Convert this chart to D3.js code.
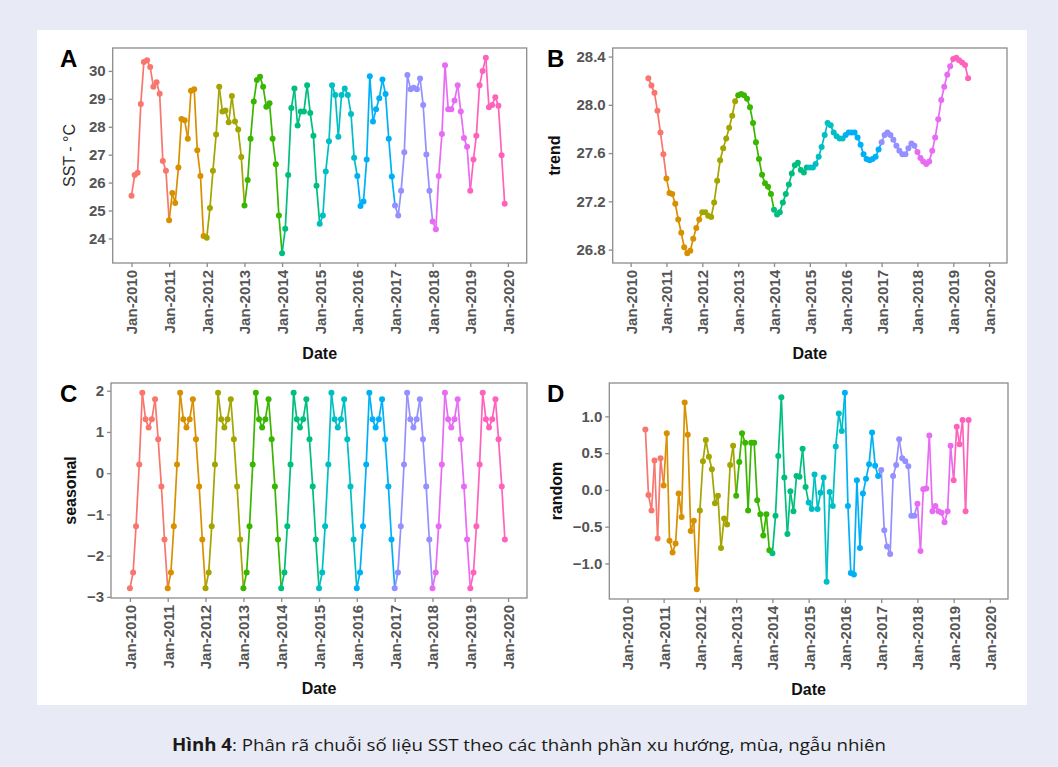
<!DOCTYPE html>
<html>
<head>
<meta charset="utf-8">
<script src="https://cdn.jsdelivr.net/npm/d3@7"></script>
<style>
  body { margin: 0; background: #e8ebf5; }
  svg { display: block; }
</style>
</head>
<body>
<svg id="fig" width="1058" height="767"></svg>
<script>
// ---- data ----
var years = [2010, 2011, 2012, 2013, 2014, 2015, 2016, 2017, 2018, 2019]
var yearColors = ["#F8766D", "#D89000", "#A3A500", "#39B600", "#00BF7D",
                  "#00BFC4", "#00B0F6", "#9590FF", "#E76BF3", "#FF62BC"]
var xTickYears = [2010, 2011, 2012, 2013, 2014, 2015, 2016, 2017, 2018, 2019, 2020]

// monthly SST, Jan-2010 .. Dec-2019
var sstValues = [
  25.53, 26.27, 26.35, 28.81, 30.32, 30.38, 30.14, 29.43, 29.59, 29.18, 26.77, 26.42,
  24.65, 25.63, 25.27, 26.54, 28.28, 28.23, 27.57, 29.29, 29.34, 27.16, 26.24, 24.09,
  24.02, 25.09, 26.42, 27.72, 29.43, 28.55, 28.58, 28.16, 29.10, 28.19, 27.90, 26.92,
  25.18, 26.09, 27.57, 28.90, 29.67, 29.79, 29.43, 28.72, 28.84, 27.57, 26.66, 24.82,
  23.47, 24.35, 26.27, 28.67, 29.37, 28.04, 28.55, 28.55, 29.49, 28.49, 27.68, 25.89,
  24.53, 24.82, 26.40, 27.48, 29.49, 29.14, 27.64, 29.14, 29.37, 29.14, 28.46, 26.89,
  26.24, 25.16, 25.32, 26.83, 29.81, 28.19, 28.63, 29.02, 29.69, 29.17, 27.57, 26.22,
  25.18, 24.82, 25.71, 27.09, 29.85, 29.34, 29.40, 29.34, 29.73, 28.78, 27.01, 25.71,
  24.61, 24.33, 26.24, 27.74, 30.20, 28.63, 28.63, 28.94, 29.49, 28.55, 27.60, 27.28,
  25.71, 26.83, 27.68, 29.49, 30.00, 30.47, 28.70, 28.78, 29.06, 28.75, 26.98, 25.24
]

// trend, Jul-2010 .. Jun-2019
var trendValues = [
  28.22, 28.16, 28.10, 27.95, 27.77, 27.59,
  27.39, 27.27, 27.26, 27.18, 27.05, 26.94, 26.82, 26.77, 26.79, 26.89, 26.98, 27.05,
  27.11, 27.11, 27.08, 27.07, 27.19, 27.37, 27.54, 27.64, 27.72, 27.81, 27.91, 28.03,
  28.08, 28.09, 28.08, 28.05, 27.98, 27.85, 27.69, 27.55, 27.42, 27.35, 27.32, 27.26,
  27.13, 27.09, 27.11, 27.19, 27.26, 27.34, 27.43, 27.50, 27.52, 27.46, 27.44, 27.48,
  27.48, 27.48, 27.51, 27.57, 27.65, 27.75, 27.85, 27.83, 27.77, 27.74, 27.72, 27.72,
  27.75, 27.77, 27.77, 27.77, 27.73, 27.67, 27.59, 27.55, 27.54, 27.55, 27.57, 27.63,
  27.69, 27.75, 27.77, 27.75, 27.71, 27.66, 27.62, 27.59, 27.59, 27.64, 27.68, 27.66,
  27.61, 27.56, 27.53, 27.51, 27.53, 27.62, 27.73, 27.88, 28.04, 28.15, 28.25, 28.32,
  28.38, 28.39, 28.37, 28.35, 28.33, 28.22
]

// seasonal component, Jan-2010 .. Dec-2019
var seasonalValues = [
  -2.79, -2.41, -1.29, 0.21, 1.95, 1.31, 1.11, 1.31, 1.79, 0.82, -0.32, -1.61,
  -2.79, -2.41, -1.29, 0.21, 1.95, 1.31, 1.11, 1.31, 1.79, 0.82, -0.32, -1.61,
  -2.79, -2.41, -1.29, 0.21, 1.95, 1.31, 1.11, 1.31, 1.79, 0.82, -0.32, -1.61,
  -2.79, -2.41, -1.29, 0.21, 1.95, 1.31, 1.11, 1.31, 1.79, 0.82, -0.32, -1.61,
  -2.79, -2.41, -1.29, 0.21, 1.95, 1.31, 1.11, 1.31, 1.79, 0.82, -0.32, -1.61,
  -2.79, -2.41, -1.29, 0.21, 1.95, 1.31, 1.11, 1.31, 1.79, 0.82, -0.32, -1.61,
  -2.79, -2.41, -1.29, 0.21, 1.95, 1.31, 1.11, 1.31, 1.79, 0.82, -0.32, -1.61,
  -2.79, -2.41, -1.29, 0.21, 1.95, 1.31, 1.11, 1.31, 1.79, 0.82, -0.32, -1.61,
  -2.79, -2.41, -1.29, 0.21, 1.95, 1.31, 1.11, 1.31, 1.79, 0.82, -0.32, -1.61,
  -2.79, -2.41, -1.29, 0.21, 1.95, 1.31, 1.11, 1.31, 1.79, 0.82, -0.32, -1.61
]

// random component, Jul-2010 .. Jun-2019
var randomValues = [
  0.82, -0.07, -0.28, 0.40, -0.66, 0.43, 0.06, 0.77, -0.69, -0.85,
  -0.73, -0.05, -0.37, 1.19, 0.75, -0.56, -0.42, -1.35, -0.28, 0.39,
  0.68, 0.45, 0.28, -0.18, -0.08, -0.79, -0.39, -0.47, 0.34, 0.60,
  -0.08, 0.38, 0.77, 0.64, -0.28, 0.64, 0.64, -0.14, -0.33, -0.62,
  -0.33, -0.82, -0.86, -0.35, 0.46, 1.26, 0.17, -0.60, -0.02, -0.29,
  0.19, 0.18, 0.56, 0.04, -0.17, -0.26, 0.21, -0.26, -0.04, 0.17,
  -1.25, -0.03, -0.22, 0.59, 1.04, 0.80, 1.32, -0.22, -1.13, -1.15,
  0.13, -0.79, -0.05, 0.15, 0.35, 0.78, 0.33, 0.19, 0.27, -0.55,
  -0.77, -0.87, 0.19, 0.34, 0.69, 0.43, 0.39, 0.32, -0.35, -0.35,
  -0.19, -0.83, 0.01, 0.02, 0.74, -0.29, -0.22, -0.29, -0.31, -0.44,
  -0.29, 0.60, 0.13, 0.86, 0.62, 0.95, -0.29, 0.95
]

var sstTicks = [24, 25, 26, 27, 28, 29, 30]
var trendTicks = [26.8, 27.2, 27.6, 28.0, 28.4]
var seasonalTicks = [-3, -2, -1, 0, 1, 2]
var randomTicks = [-1.0, -0.5, 0.0, 0.5, 1.0]

var captionBold = "Hình 4"
var captionText = ": Phân rã chuỗi số liệu SST theo các thành phần xu hướng, mùa, ngẫu nhiên"

// ---- drawing ----
var svg = d3.select('#fig')
var fontFam = "'Liberation Sans', Arial, Helvetica, sans-serif"
var colorOf = d3.scaleOrdinal(years, yearColors)

svg.append('rect').attr('width', 1058).attr('height', 767).attr('fill', '#e8ebf5')
svg.append('rect').attr('x', 37).attr('y', 30).attr('width', 990).attr('height', 675).attr('fill', '#ffffff')

function monthSeries (startYear, startMonth, values) {
    return values.map(function (v, i) {
        return { date: new Date(startYear, startMonth + i, 1), value: v }
    })
}

var panels = [
    { letter: 'A', box: [112.7, 48, 526.7, 263], data: monthSeries(2010, 0, sstValues), ticks: sstTicks, fmt: d3.format('d'),
      title: 'SST - °C', titleX: 69, letterX: 60 },
    { letter: 'B', box: [612.7, 48, 1007, 263], data: monthSeries(2010, 6, trendValues), ticks: trendTicks, fmt: d3.format('.1f'),
      title: 'trend', titleX: 554, letterX: 547 },
    { letter: 'C', box: [111, 383, 527, 598], data: monthSeries(2010, 0, seasonalValues), ticks: seasonalTicks, fmt: d3.format('d'),
      title: 'seasonal', titleX: 70, letterX: 60 },
    { letter: 'D', box: [609.3, 383, 1008, 599], data: monthSeries(2010, 6, randomValues), ticks: randomTicks, fmt: d3.format('.1f'),
      title: 'random', titleX: 556, letterX: 547 }
]

var xStart = new Date(2010, 0, 1), xEnd = new Date(2020, 0, 1)
var xPad = (xEnd - xStart) * 0.05

panels.forEach(function (p) {
    var x0 = p.box[0], y0 = p.box[1], x1 = p.box[2], y1 = p.box[3]
    var g = svg.append('g')

    var x = d3.scaleTime()
        .domain([new Date(+xStart - xPad), new Date(+xEnd + xPad)])
        .range([x0, x1])
    var ext = d3.extent(p.data, function (d) { return d.value })
    var yPad = (ext[1] - ext[0]) * 0.05
    var y = d3.scaleLinear()
        .domain([ext[0] - yPad, ext[1] + yPad])
        .range([y1, y0])

    // panel border
    g.append('rect')
        .attr('x', x0).attr('y', y0)
        .attr('width', x1 - x0).attr('height', y1 - y0)
        .attr('fill', 'none').attr('stroke', '#8c8c8c').attr('stroke-width', 1.3)

    // axes
    var xAxis = d3.axisBottom(x)
        .tickValues(xTickYears.map(function (yr) { return new Date(yr, 0, 1) }))
        .tickFormat(d3.timeFormat('Jan-%Y'))
        .tickSize(4)
    var gx = g.append('g').attr('transform', `translate(0,${y1})`).call(xAxis)
    gx.select('.domain').remove()
    gx.selectAll('line').attr('stroke', '#8c8c8c').attr('stroke-width', 1.3)
    gx.selectAll('text')
        .attr('transform', 'rotate(-90)')
        .attr('text-anchor', 'end')
        .attr('x', -7).attr('y', 0).attr('dy', '0.36em')
        .attr('font-family', fontFam).attr('font-size', '15px').attr('font-weight', 'bold')
        .attr('fill', '#555555')

    var yAxis = d3.axisLeft(y).tickValues(p.ticks).tickFormat(p.fmt).tickSize(4).tickPadding(3)
    var gy = g.append('g').attr('transform', `translate(${x0},0)`).call(yAxis)
    gy.select('.domain').remove()
    gy.selectAll('line').attr('stroke', '#8c8c8c').attr('stroke-width', 1.3)
    gy.selectAll('text')
        .attr('font-family', fontFam).attr('font-size', '15px').attr('font-weight', 'bold')
        .attr('fill', '#555555')

    // line segments, each coloured by the year of its start point
    var pts = p.data
    for (let i = 0; i < pts.length - 1; i++) {
        g.append('line')
            .attr('x1', x(pts[i].date)).attr('y1', y(pts[i].value))
            .attr('x2', x(pts[i + 1].date)).attr('y2', y(pts[i + 1].value))
            .attr('stroke', colorOf(pts[i].date.getFullYear()))
            .attr('stroke-width', 1.7)
    }
    g.selectAll('circle.pt').data(pts).enter().append('circle')
        .attr('class', 'pt')
        .attr('cx', function (d) { return x(d.date) })
        .attr('cy', function (d) { return y(d.value) })
        .attr('r', 3)
        .attr('fill', function (d) { return colorOf(d.date.getFullYear()) })

    // titles
    g.append('text')
        .attr('x', (x0 + x1) / 2).attr('y', y1 + 96)
        .attr('text-anchor', 'middle')
        .attr('font-family', fontFam).attr('font-size', '16px').attr('font-weight', 'bold')
        .attr('fill', '#111')
        .text('Date')
    g.append('text')
        .attr('transform', `translate(${p.titleX},${(y0 + y1) / 2}) rotate(-90)`)
        .attr('text-anchor', 'middle').attr('dy', '0.36em')
        .attr('font-family', fontFam).attr('font-size', '16px')
        .attr('font-weight', p.letter === 'A' ? 'normal' : 'bold')
        .attr('fill', p.letter === 'A' ? '#2a2a2a' : '#111')
        .text(p.title)
    g.append('text')
        .attr('x', p.letterX).attr('y', y0 + 19)
        .attr('font-family', fontFam).attr('font-size', '24px').attr('font-weight', 'bold')
        .attr('fill', '#000')
        .text(p.letter)
})

// caption, stretched to the width it has in the figure
var cap = svg.append('text')
    .attr('x', 529).attr('y', 751)
    .attr('text-anchor', 'middle')
    .attr('font-family', "'Open Sans', 'Noto Sans', sans-serif")
    .attr('font-size', '17px')
    .attr('fill', '#1a1a1a')
    .attr('textLength', 714)
    .attr('lengthAdjust', 'spacingAndGlyphs')
cap.append('tspan').attr('font-weight', 'bold').text(captionBold)
cap.append('tspan').text(captionText)
</script>
</body>
</html>
